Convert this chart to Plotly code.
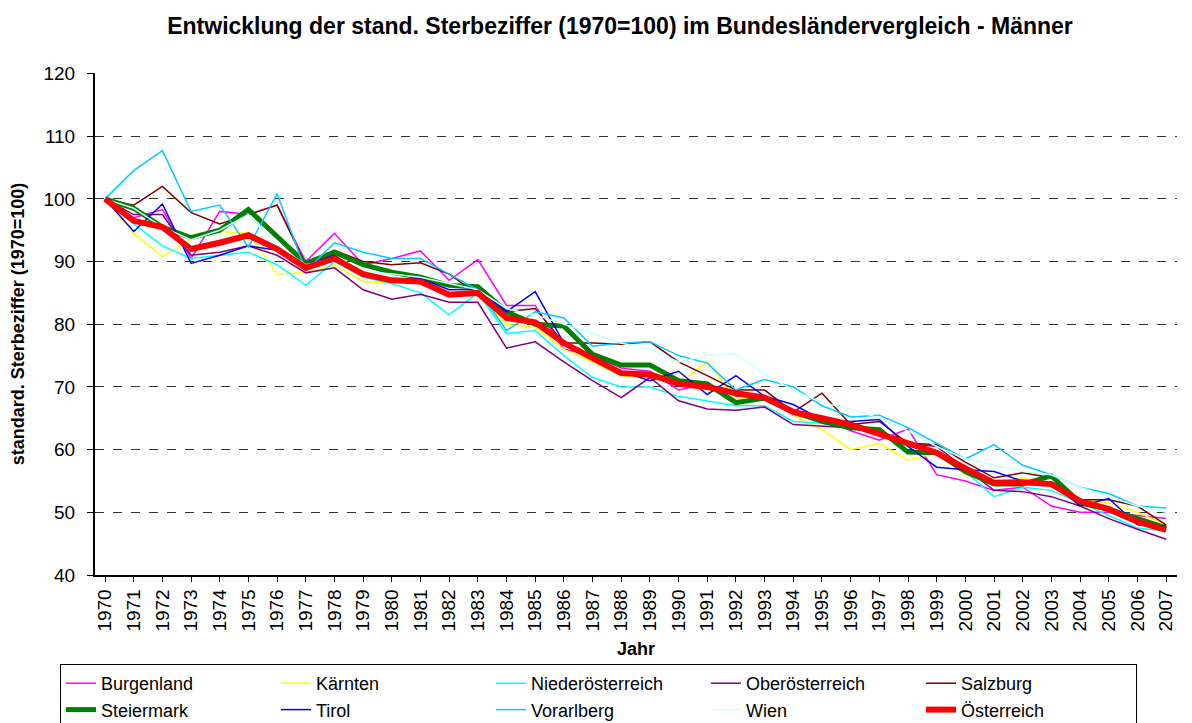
import plotly.graph_objects as go

years = list(range(1970, 2008))

burgenland = [100, 97, 98.3, 90.5, 98, 97.5, 99, 90, 94.5, 89.5, 90.5, 91.7, 87, 90.3, 83, 83, 76, 75, 73, 72.5,
              69.5, 70.5, 68.5, 68.5, 65.5, 65, 63, 61.5, 63.3, 56, 55, 53.5, 54, 51, 50, 50, 49.5, 49]
kaernten = [100, 94.5, 90.8, 93.5, 94.8, 94.5, 88, 88.2, 89.5, 86.8, 86.5, 87, 84.5, 84.8, 80, 79.5, 76, 74, 71.8, 71.5,
            70.5, 74, 68, 68.5, 65.5, 63.2, 60, 61, 58.3, 59.5, 56, 54.5, 55.5, 54.5, 52, 51.5, 50, 48]
niederoesterreich = [100, 96, 92.5, 90.5, 91, 91.5, 89.5, 86.2, 90, 87.5, 86.5, 85, 81.5, 85, 78.5, 79, 75, 71.5, 70, 70,
                     68.5, 67.8, 67, 67, 64.5, 64.2, 63.5, 62.5, 60.5, 59.5, 56.5, 52.5, 54, 53.5, 51.5, 49.5, 47.5, 47]
oberoesterreich = [100, 97.5, 97.5, 91, 91.5, 92.5, 91, 88.2, 89, 85.5, 84, 84.8, 83.5, 83.5, 76.2, 77.2, 74, 71, 68.3, 71.5,
                   67.8, 66.5, 66.3, 66.8, 64, 63.8, 63.5, 62.5, 61, 60.5, 57, 53.5, 53.3, 52.5, 51, 49, 47.3, 45.7]
salzburg = [100, 99, 102, 97.8, 96, 97.5, 99, 89.5, 91.8, 90, 89.5, 89.8, 88, 84.8, 82, 82.5, 77, 77, 76.8, 77.2,
            74, 71.8, 69.5, 69.5, 66, 69, 64, 64.5, 61, 60.8, 58, 55.5, 56.3, 55.5, 52, 52, 51, 48]
steiermark = [100, 98.5, 95.5, 93.8, 95, 98.3, 94, 89.7, 91.5, 89.5, 88.3, 87.5, 86.2, 86, 82, 80, 79.7, 75.2, 73.5, 73.5,
              71, 70.5, 67.5, 68.2, 66, 64.5, 63.5, 63.2, 59.6, 59.5, 56.5, 54.5, 54.5, 55.8, 51.5, 50.5, 49, 47.5]
tirol = [100, 94.8, 99.2, 89.7, 91, 92.5, 91.8, 89.5, 91, 88, 87.2, 87.3, 85.5, 85.6, 82, 85.2, 77, 74.5, 72.5, 71,
         72.5, 68.8, 71.8, 68.5, 67.2, 64.8, 64.5, 64.8, 60.5, 57.2, 56.8, 56.5, 55, 54.8, 51, 52.2, 48, 47.8]
vorarlberg = [100, 104.5, 107.7, 98, 99, 92.3, 100.8, 88.5, 93, 91.5, 90.5, 90.5, 88, 85.5, 79, 82, 81, 76.5, 77, 77.2,
              75, 73.8, 69.5, 71.2, 70, 67, 65.2, 65.5, 63.5, 61, 58.5, 60.8, 57.5, 56, 54, 53, 51, 50.7]
wien = [100, 98.5, 95.5, 93.5, 95, 97.5, 92.5, 89.5, 90.5, 88.5, 88, 87.5, 86.5, 85.5, 82.5, 81.5, 80, 78.5, 77, 76,
        74, 75, 75.3, 72, 69.5, 67.5, 66.5, 65, 63, 60.5, 58.5, 57.5, 56.5, 56, 54, 52.5, 51, 50]
oesterreich = [100, 96.5, 95.5, 92, 93, 94.2, 92, 89, 90.5, 88, 87, 86.8, 84.7, 85, 81, 80.3, 77, 74.5, 72.2, 72,
               70.5, 70, 69, 68.3, 66, 65, 64, 62.5, 61, 59.5, 57, 54.7, 54.8, 54.5, 51.8, 50.5, 48.5, 47.2]

series = [
    ("Burgenland", burgenland, "#FF00FF", 1.5),
    ("Kärnten", kaernten, "#FFFF00", 1.5),
    ("Niederösterreich", niederoesterreich, "#00FFFF", 1.5),
    ("Oberösterreich", oberoesterreich, "#800080", 1.5),
    ("Salzburg", salzburg, "#800000", 1.5),
    ("Steiermark", steiermark, "#008000", 5),
    ("Tirol", tirol, "#0000FF", 1.5),
    ("Vorarlberg", vorarlberg, "#00CCFF", 1.5),
    ("Wien", wien, "#CCFFFF", 1.5),
    ("Österreich", oesterreich, "#FF0000", 6),
]

font_family = "Arial, Liberation Sans, sans-serif"

fig = go.Figure()
for name, vals, color, w in series:
    fig.add_trace(go.Scatter(x=years, y=vals, name=name, mode="lines",
                             line=dict(color=color, width=w)))

W, H = 1192, 723
fig.update_layout(
    width=W, height=H,
    paper_bgcolor="white", plot_bgcolor="white",
    font=dict(family=font_family, color="black", size=19),
    title=dict(text="<b>Entwicklung der stand. Sterbeziffer (1970=100) im Bundesländervergleich - Männer</b>",
               x=(620 - 8) / W, xanchor="center", y=1 - 18 / H, yanchor="middle", font=dict(size=23)),
    margin=dict(l=87, r=23, t=65, b=156, autoexpand=False),
    showlegend=True,
    legend=dict(orientation="h", xref="container", yref="container",
                x=52 / W, xanchor="left", y=1 - 656 / H, yanchor="top",
                bordercolor="black", borderwidth=1, bgcolor="white",
                entrywidth=170, entrywidthmode="pixels",
                font=dict(size=18), tracegroupgap=0),
)

fig.update_xaxes(
    range=[1969.65, 2007.38], tickmode="linear", tick0=1970, dtick=1,
    tickangle=-90, tickfont=dict(size=19), automargin=False,
    showline=True, linecolor="black", linewidth=1.5,
    ticks="outside", ticklen=5, tickcolor="black",
    showgrid=False, zeroline=False,
    title=dict(text="<b>Jahr</b>", font=dict(size=18), standoff=12),
)
fig.update_yaxes(
    range=[40, 120.08], tickmode="linear", tick0=40, dtick=10,
    tickfont=dict(size=19), ticklabelstandoff=8, automargin=False,
    showline=True, linecolor="black", linewidth=2,
    ticks="outside", ticklen=6, tickcolor="black",
    showgrid=True, gridcolor="#333333", griddash="dash", gridwidth=1,
    zeroline=False,
    title=dict(text="<b>standard. Sterbeziffer (1970=100)</b>", font=dict(size=18), standoff=20),
)

fig.write_html("out.html")
